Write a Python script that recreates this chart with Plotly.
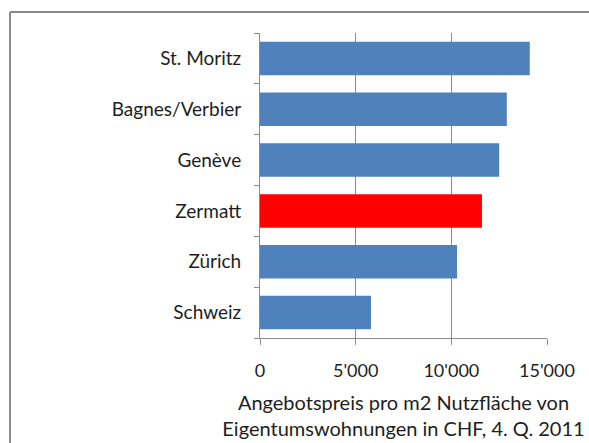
import plotly.graph_objects as go

# data, top to bottom as in the chart
orte = ["St. Moritz", "Bagnes/Verbier", "Genève", "Zermatt", "Zürich", "Schweiz"]
preise = [14100, 12900, 12500, 11600, 10300, 5800]
farben = ["#4F81BD", "#4F81BD", "#4F81BD", "#FF0000", "#4F81BD", "#4F81BD"]
x_ticks = [0, 5000, 10000, 15000]
x_labels = ["0", "5'000", "10'000", "15'000"]

FONT = "Lato, Open Sans, sans-serif"
GREY = "#8c8c8c"

# plot area in pixels, used for the outer frame
L, R, T, B = 260, 42, 33, 105
W, H = 589, 443
pw, ph = W - L - R, H - T - B

def px_x(p):
    return (p - L) / pw

def px_y(p):
    return (H - B - p) / ph

bars = go.Bar(
    x=preise,
    y=orte,
    orientation="h",
    marker=dict(color=farben, line=dict(width=0)),
    width=0.66,
)

# outer frame of the original picture: only top and left edges are visible
frame = dict(type="line", xref="paper", yref="paper",
             line=dict(color="#8a8a8a", width=2), layer="below")

fig = go.Figure(data=[bars])
fig.update_layout(
    width=W, height=H,
    margin=dict(l=L, r=R, t=T, b=B, autoexpand=False),
    paper_bgcolor="white",
    plot_bgcolor="white",
    showlegend=False,
    font=dict(family=FONT, color="#1e1e1e"),
    xaxis=dict(
        range=[0, 15000],
        tickvals=x_ticks,
        ticktext=x_labels,
        tickfont=dict(size=18),
        showgrid=True, gridcolor=GREY, gridwidth=1,
        showline=True, linecolor=GREY, linewidth=1,
        ticks="outside", ticklen=6, tickcolor=GREY,
        ticklabelstandoff=10,
        zeroline=False,
        automargin=False,
        title=dict(text="Angebotspreis pro m2 Nutzfläche von<br>Eigentumswohnungen in CHF, 4. Q. 2011",
                   font=dict(size=20), standoff=16),
    ),
    yaxis=dict(
        categoryorder="array",
        categoryarray=orte[::-1],
        tickson="boundaries",
        tickfont=dict(size=19),
        showgrid=False,
        showline=True, linecolor=GREY, linewidth=1,
        ticks="outside", ticklen=5, tickcolor=GREY,
        ticklabelstandoff=14,
        automargin=False,
    ),
    shapes=[
        dict(frame, x0=px_x(10), x1=px_x(700), y0=px_y(12), y1=px_y(12)),
        dict(frame, x0=px_x(10), x1=px_x(10), y0=px_y(12), y1=px_y(520)),
    ],
)

# the page has a default body margin; drop it so the figure sits at 0,0
fig.write_html("out.html", config={"displayModeBar": False},
               post_script="document.body.style.margin='0';document.body.style.overflow='hidden';")
